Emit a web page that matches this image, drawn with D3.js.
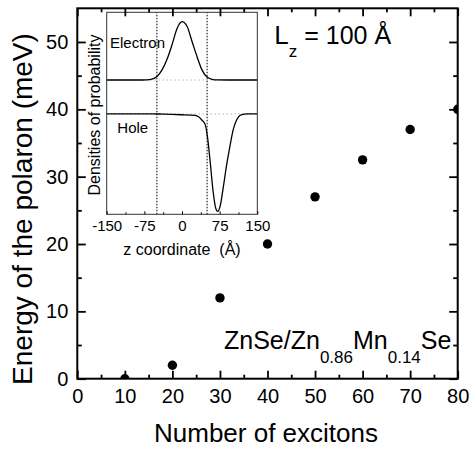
<!DOCTYPE html>
<html>
<head>
<meta charset="utf-8">
<script src="https://cdn.jsdelivr.net/npm/d3@7"></script>
<style>
  body { margin: 0; background: #fff; }
  svg text { font-family: "Liberation Sans", Arial, sans-serif; fill: #000; }
  .tick line { stroke: #000; stroke-width: 1.8; }
  .inset .tick line { stroke-width: 1; }
</style>
</head>
<body>
<div id="chart"></div>
<script>
// main chart data
let excitons = [10, 20, 30, 40, 50, 60, 70, 80];
let polaronEnergy = [0, 2, 12, 20, 27, 32.5, 37, 40];

let xMajor = [0, 10, 20, 30, 40, 50, 60, 70, 80];
let xMinor = [5, 15, 25, 35, 45, 55, 65, 75];
let yMajor = [0, 10, 20, 30, 40, 50];
let yMinor = [5, 15, 25, 35, 45];

// inset data: z coordinate (Å) and probability densities (arbitrary units)
let zElectron = [-150, -120, -90, -70, -60, -50, -40, -30, -20, -10, 0, 10, 20, 30, 40, 50, 60, 70, 90, 120, 150];
let electronDensity = [0, 0, 0, 0.003, 0.015, 0.06, 0.17, 0.35, 0.6, 0.88, 1.0, 0.92, 0.66, 0.4, 0.17, 0.05, 0.012, 0.002, 0, 0, 0];
let zHole = [-150, -100, -60, -40, -20, 0, 15, 26, 33, 39, 46, 51, 56, 62, 67, 71, 76, 82, 89, 96, 102, 109, 119, 130, 150];
let holeDensity = [0, 0, 0, 0.003, 0.008, 0.015, 0.02, 0.025, 0.05, 0.1, 0.18, 0.41, 0.81, 1.33, 1.61, 1.67, 1.58, 1.27, 0.87, 0.53, 0.27, 0.1, 0.012, 0, 0];
let wellEdges = [-50, 50];
let insetTicks = [-150, -75, 0, 75, 150];
let insetMinor = [-112.5, -37.5, 37.5, 112.5];

let electronOffset = 0.58,
    holeOffset = 0;

let SVGwidth = 470,
    SVGheight = 449,
    plot = {left: 77.3, right: 457.7, top: 8.3, bottom: 378.7};

let svg = d3.select("#chart").append("svg")
    .attr("width", SVGwidth)
    .attr("height", SVGheight);

let x = d3.scaleLinear().domain([0, 80]).range([plot.left, plot.right]);
let y = d3.scaleLinear().domain([0, 55]).range([plot.bottom, plot.top]);

// Inset //

let ix = d3.scaleLinear().domain([-150, 150]).range([106.7, 257.3]);
let iy = d3.scaleLinear().domain([-1.72, 1.74]).range([214.3, 12.3]);

let inset = svg.append("g").attr("class", "inset");

[electronOffset, holeOffset].forEach(function(off) {
    inset.append("line")
        .attr("x1", ix(-150)).attr("x2", ix(150))
        .attr("y1", iy(off)).attr("y2", iy(off))
        .attr("stroke", "#999")
        .attr("stroke-width", 1)
        .attr("stroke-dasharray", "1,3");
});

inset.selectAll(".well")
    .data(wellEdges)
    .enter().append("line")
    .attr("class", "well")
    .attr("x1", d => ix(d)).attr("x2", d => ix(d))
    .attr("y1", iy(-1.72)).attr("y2", iy(1.74))
    .attr("stroke", "#000")
    .attr("stroke-width", 1)
    .attr("stroke-dasharray", "1.5,1.5");

let electronLine = d3.line()
    .x((d, i) => ix(zElectron[i]))
    .y(d => iy(electronOffset + d))
    .curve(d3.curveMonotoneX);

let holeLine = d3.line()
    .x((d, i) => ix(zHole[i]))
    .y(d => iy(holeOffset - d))
    .curve(d3.curveMonotoneX);

inset.append("path")
    .attr("d", electronLine(electronDensity))
    .attr("fill", "none").attr("stroke", "#000").attr("stroke-width", 1.3);

inset.append("path")
    .attr("d", holeLine(holeDensity))
    .attr("fill", "none").attr("stroke", "#000").attr("stroke-width", 1.3);

inset.append("rect")
    .attr("x", ix(-150)).attr("y", iy(1.74))
    .attr("width", ix(150) - ix(-150))
    .attr("height", iy(-1.72) - iy(1.74))
    .attr("fill", "none").attr("stroke", "#333").attr("stroke-width", 1);

let insetAxis = inset.append("g")
    .attr("transform", "translate(0," + iy(-1.72) + ")")
    .call(d3.axisBottom(ix).tickValues(insetTicks).tickFormat(d => String(d))
        .tickSizeInner(-3).tickSizeOuter(0).tickPadding(6));
insetAxis.select(".domain").remove();
insetAxis.selectAll("text").style("font-size", "15px").attr("fill", "#000");

let insetMinorAxis = inset.append("g")
    .attr("transform", "translate(0," + iy(-1.72) + ")")
    .call(d3.axisBottom(ix).tickValues(insetMinor).tickFormat("")
        .tickSizeInner(-2).tickSizeOuter(0));
insetMinorAxis.select(".domain").remove();

inset.append("text")
    .attr("x", 110).attr("y", 48)
    .style("font-size", "15px")
    .text("Electron");

inset.append("text")
    .attr("x", 117.3).attr("y", 132.7)
    .style("font-size", "15px")
    .text("Hole");

inset.append("text")
    .attr("transform", "translate(99.5,115) rotate(-90)")
    .style("text-anchor", "middle")
    .style("font-size", "16px")
    .text("Densities of probability");

inset.append("text")
    .attr("x", ix(0)).attr("y", 255)
    .style("text-anchor", "middle")
    .style("font-size", "16px")
    .style("white-space", "pre")
    .text("z coordinate  (\u00C5)");

// Main axes //

function addAxis(axis, transform, values, size, labelled) {
    let g = svg.append("g")
        .attr("transform", transform)
        .call(axis.tickValues(values).tickSizeInner(size).tickSizeOuter(0));
    g.select(".domain").remove();
    if (!labelled) {
        g.selectAll("text").remove();
    } else {
        g.selectAll("text").style("font-size", "20px").attr("fill", "#000");
    }
    return g;
}

addAxis(d3.axisBottom(x).tickPadding(10), "translate(0," + plot.bottom + ")", xMajor, -8, true);
addAxis(d3.axisBottom(x), "translate(0," + plot.bottom + ")", xMinor, -4, false);
addAxis(d3.axisTop(x), "translate(0," + plot.top + ")", xMajor, -8, false);
addAxis(d3.axisTop(x), "translate(0," + plot.top + ")", xMinor, -4, false);
addAxis(d3.axisLeft(y).tickPadding(9), "translate(" + plot.left + ",0)", yMajor, -8.5, true);
addAxis(d3.axisLeft(y), "translate(" + plot.left + ",0)", yMinor, -4.5, false);
addAxis(d3.axisRight(y), "translate(" + plot.right + ",0)", yMajor, -8.5, false);
addAxis(d3.axisRight(y), "translate(" + plot.right + ",0)", yMinor, -4.5, false);

// annotations
let lz = svg.append("text")
    .attr("x", 274.3).attr("y", 44)
    .style("font-size", "26px");
lz.append("tspan").text("L");
lz.append("tspan").attr("dy", 13).style("font-size", "17px").text("z");
lz.append("tspan").attr("dy", -13).style("font-size", "25px").style("white-space", "pre").text(" = 100 \u00C5");

let sample = svg.append("text")
    .attr("x", 224).attr("y", 349.3)
    .style("font-size", "25px");
sample.append("tspan").text("ZnSe/Zn");
sample.append("tspan").attr("dy", 14).style("font-size", "17px").text("0.86");
sample.append("tspan").attr("dy", -14).text("Mn");
sample.append("tspan").attr("dy", 14).style("font-size", "17px").text("0.14");
sample.append("tspan").attr("dy", -14).text("Se");

// data points, clipped to the frame
svg.append("clipPath")
    .attr("id", "plotClip")
    .append("rect")
    .attr("x", plot.left).attr("y", plot.top)
    .attr("width", plot.right - plot.left)
    .attr("height", plot.bottom - plot.top);

svg.append("g")
    .attr("clip-path", "url(#plotClip)")
    .selectAll(".point")
    .data(polaronEnergy)
    .enter().append("circle")
    .attr("class", "point")
    .attr("r", 4.7)
    .attr("cx", (d, i) => x(excitons[i]))
    .attr("cy", d => y(d))
    .attr("fill", "#000");

svg.append("rect")
    .attr("x", plot.left).attr("y", plot.top)
    .attr("width", plot.right - plot.left)
    .attr("height", plot.bottom - plot.top)
    .attr("fill", "none")
    .attr("stroke", "#000")
    .attr("stroke-width", 2);

// axis titles
svg.append("text")
    .attr("x", 266).attr("y", 441.7)
    .style("text-anchor", "middle")
    .style("font-size", "26px")
    .text("Number of excitons");

svg.append("text")
    .attr("transform", "translate(31.7,209) rotate(-90)")
    .style("text-anchor", "middle")
    .style("font-size", "28px")
    .text("Energy of the polaron (meV)");
</script>
</body>
</html>
